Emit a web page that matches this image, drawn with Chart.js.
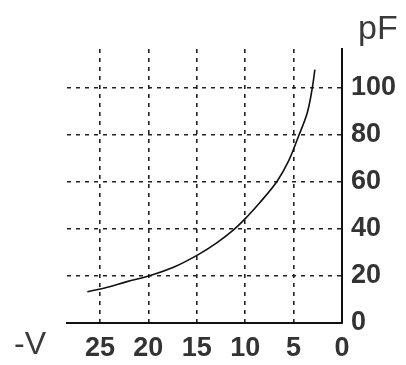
<!DOCTYPE html>
<html>
<head>
<meta charset="utf-8">
<script src="https://cdn.jsdelivr.net/npm/chart.js@4.4.1/dist/chart.umd.min.js"></script>
<style>
  html, body { margin: 0; padding: 0; background: #fff; }
  #wrap { width: 406px; height: 365px; }
</style>
</head>
<body>
<div id="wrap"><canvas id="cv"></canvas></div>
<script>
// reverse voltage (-V) and capacitance (pF)
var voltage     = [26.3, 24.6, 22.2, 19.8, 17.4, 14.8, 12.9, 11.2, 9.8, 8.5, 6.7, 5.5, 4.5, 3.6, 3.1, 2.8];
var capacitance = [13.3, 14.8, 17.6, 20.2, 23.7, 29.2, 34.2, 39.6, 45.2, 51.1, 60.3, 69, 79.3, 89.2, 99.1, 107.7];

var xMax = 28.4;   // left end of the bottom axis
var yMax = 116.5;  // top end of the right axis

var points = [];
for (var i = 0; i < voltage.length; i++) {
    points.push({ x: voltage[i], y: capacitance[i] });
}

// axis unit labels
var unitLabels = {
    id: 'unitLabels',
    afterDraw: function(chart) {
        var c = chart.ctx;
        var area = chart.chartArea;
        c.save();
        c.fillStyle = '#3a3a3a';
        c.textBaseline = 'middle';
        c.font = '34px "Liberation Sans", Arial, sans-serif';
        c.textAlign = 'left';
        c.fillText('pF', area.right + 16, 30);
        c.font = '32px "Liberation Sans", Arial, sans-serif';
        c.fillText('-V', 14, area.bottom + 22);
        c.restore();
    }
};

function gridColor(ctx) {
    return ctx.tick && ctx.tick.value === 0 ? 'rgba(0,0,0,0)' : '#222';
}

var tickFont = { family: '"Liberation Sans", Arial, sans-serif', size: 27, weight: 'bold' };

new Chart(document.getElementById('cv').getContext('2d'), {
    type: 'scatter',
    data: {
        datasets: [{
            data: points,
            showLine: true,
            borderColor: '#111',
            borderWidth: 1.6,
            pointRadius: 0,
            tension: 0.35
        }]
    },
    options: {
        responsive: true,
        maintainAspectRatio: false,
        animation: false,
        layout: { padding: { left: 67, top: 49, right: 0, bottom: 0 } },
        plugins: { legend: { display: false }, tooltip: { enabled: false } },
        scales: {
            x: {
                type: 'linear',
                reverse: true,
                min: 0,
                max: xMax,
                afterFit: function(s) { s.height = 42; },
                border: { display: true, color: '#111', width: 2, dash: [4, 5] },
                grid: { color: gridColor, lineWidth: 1.6, drawTicks: false },
                ticks: { stepSize: 5, includeBounds: false, padding: 9, color: '#333', font: tickFont }
            },
            y: {
                type: 'linear',
                position: 'right',
                min: 0,
                max: yMax,
                afterFit: function(s) { s.width = 64; },
                border: { display: true, color: '#111', width: 2, dash: [4, 5] },
                grid: { color: gridColor, lineWidth: 1.6, drawTicks: false },
                ticks: { stepSize: 20, includeBounds: false, padding: 9, color: '#333', font: tickFont }
            }
        }
    },
    plugins: [unitLabels]
});
</script>
</body>
</html>
